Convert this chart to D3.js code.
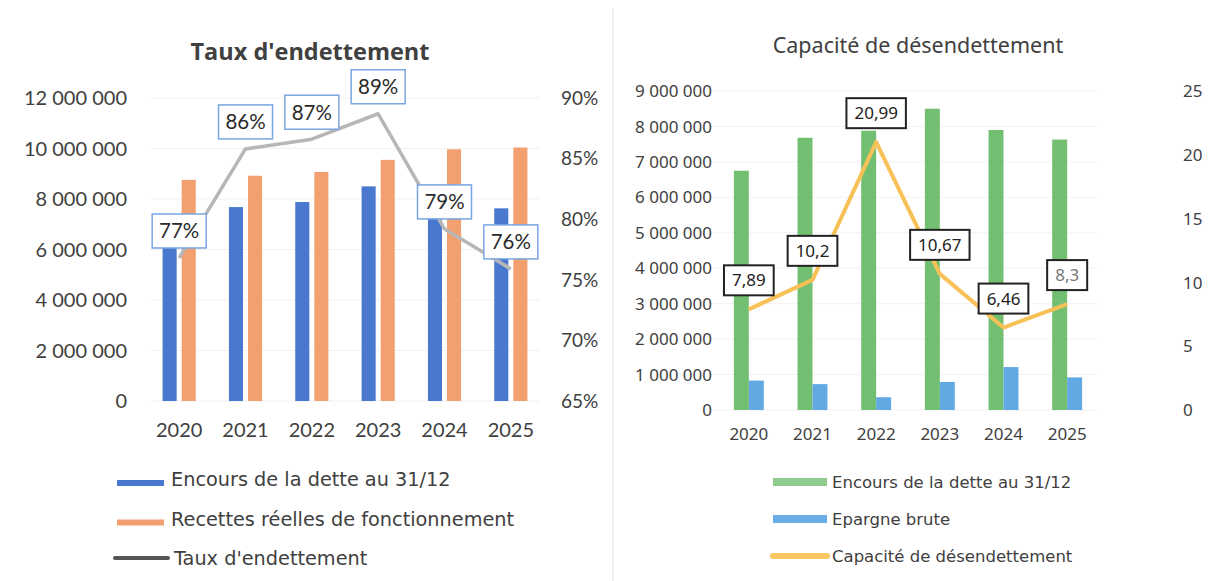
<!DOCTYPE html>
<html>
<head>
<meta charset="utf-8">
<script src="https://cdn.jsdelivr.net/npm/d3@7"></script>
<style>
  body { margin: 0; background: #fff; }
  svg { display: block; }
</style>
</head>
<body>
<svg width="1217" height="581"></svg>
<script>
var years = ["2020", "2021", "2022", "2023", "2024", "2025"];
var encours = [6750000, 7680000, 7880000, 8500000, 7900000, 7630000];
var recettes = [8760000, 8920000, 9070000, 9550000, 9970000, 10040000];
var taux = [0.768, 0.858, 0.866, 0.887, 0.792, 0.759];
var epargne = [830000, 730000, 360000, 790000, 1210000, 920000];
var capacite = [7.89, 10.2, 20.99, 10.67, 6.46, 8.3];

var leftTicks = [0, 2e6, 4e6, 6e6, 8e6, 10e6, 12e6];
var pctTicks = [0.65, 0.70, 0.75, 0.80, 0.85, 0.90];
var rightTicks = [0, 1e6, 2e6, 3e6, 4e6, 5e6, 6e6, 7e6, 8e6, 9e6];
var capTicks = [0, 5, 10, 15, 20, 25];

var svg = d3.select("svg");
var spaced = function (v) { return d3.format(",")(v).replace(/,/g, " "); };

// faint panel separator
svg.append("line").attr("x1", 613).attr("x2", 613).attr("y1", 8).attr("y2", 581)
    .style("stroke", "#f0f0f0").style("stroke-width", 2);

// ---------- left chart : Taux d'endettement ----------
var L = svg.append("g").style("font-family", "Lato, sans-serif");

var x = d3.scaleBand().domain(years).range([146, 544]).paddingInner(0.5).paddingOuter(0.25);
var xIn = d3.scaleBand().domain(["a", "b"]).range([0, x.bandwidth()]).paddingInner(0.263);
var y = d3.scaleLinear().domain([0, 12e6]).range([401, 98]);
var yP = d3.scaleLinear().domain([0.65, 0.90]).range([401, 98]);

L.append("text").attr("x", 310).attr("y", 60).attr("text-anchor", "middle")
    .style("font-family", "'Open Sans', sans-serif")
    .style("font-size", "23.5px").style("font-weight", "bold").style("fill", "#404040")
    .text("Taux d'endettement");

L.selectAll(".grid").data(leftTicks).enter().append("line")
    .attr("x1", 150).attr("x2", 540)
    .attr("y1", function (d) { return y(d); }).attr("y2", function (d) { return y(d); })
    .style("stroke", "#f1f1f1").style("stroke-width", 1);

L.selectAll(".yl").data(leftTicks).enter().append("text")
    .attr("x", 127).attr("y", function (d) { return y(d); }).attr("dy", "0.36em")
    .attr("text-anchor", "end").style("font-size", "20px").style("fill", "#404040")
    .text(spaced);

L.selectAll(".yr").data(pctTicks).enter().append("text")
    .attr("x", 561).attr("y", function (d) { return yP(d); }).attr("dy", "0.36em")
    .style("font-size", "19px").style("fill", "#404040")
    .text(function (d) { return Math.round(d * 100) + "%"; });

L.selectAll(".xl").data(years).enter().append("text")
    .attr("x", function (d) { return x(d) + x.bandwidth() / 2; }).attr("y", 437)
    .attr("text-anchor", "middle").style("font-size", "20px").style("fill", "#404040")
    .text(function (d) { return d; });

L.selectAll(".b1").data(encours).enter().append("rect")
    .attr("x", function (d, i) { return x(years[i]) + xIn("a"); })
    .attr("y", function (d) { return y(d); })
    .attr("width", xIn.bandwidth()).attr("height", function (d) { return y(0) - y(d); })
    .style("fill", "#4a78cf");

L.selectAll(".b2").data(recettes).enter().append("rect")
    .attr("x", function (d, i) { return x(years[i]) + xIn("b"); })
    .attr("y", function (d) { return y(d); })
    .attr("width", xIn.bandwidth()).attr("height", function (d) { return y(0) - y(d); })
    .style("fill", "#f2a070");

var lineL = d3.line()
    .x(function (d, i) { return x(years[i]) + x.bandwidth() / 2; })
    .y(function (d) { return yP(d); });
L.append("path").datum(taux).attr("d", lineL)
    .style("fill", "none").style("stroke", "#b7b7b7").style("stroke-width", 3.5)
    .style("stroke-linejoin", "round");

var labL = L.selectAll(".lab").data(taux).enter().append("g")
    .attr("transform", function (d, i) {
        return "translate(" + (x(years[i]) + x.bandwidth() / 2) + "," + (yP(d) - 27) + ")";
    });
labL.append("rect").attr("x", -27).attr("y", -17).attr("width", 54).attr("height", 34)
    .style("fill", "#fff").style("stroke", "#79a6e3").style("stroke-width", 1.5);
labL.append("text").attr("text-anchor", "middle").attr("dy", "0.36em")
    .style("font-size", "20.5px").style("fill", "#2a2a2a")
    .text(function (d) { return Math.round(d * 100) + "%"; });

var legL = [
    { name: "Encours de la dette au 31/12", color: "#4a78cf", type: "rect" },
    { name: "Recettes réelles de fonctionnement", color: "#f2a070", type: "rect" },
    { name: "Taux d'endettement", color: "#555", type: "line" }
];
var lg = L.selectAll(".leg").data(legL).enter().append("g")
    .attr("transform", function (d, i) { return "translate(0," + (486 + i * 39.5) + ")"; });
lg.filter(function (d) { return d.type == "rect"; }).append("rect")
    .attr("x", 117).attr("y", -6).attr("width", 47).attr("height", 6)
    .style("fill", function (d) { return d.color; });
lg.filter(function (d) { return d.type == "line"; }).append("line")
    .attr("x1", 115).attr("x2", 168).attr("y1", -7).attr("y2", -7)
    .style("stroke", function (d) { return d.color; }).style("stroke-width", 4)
    .style("stroke-linecap", "round");
lg.append("text").attr("x", function (d) { return d.type == "line" ? 174 : 171; })
    .style("font-family", "'DejaVu Sans', sans-serif").style("font-size", "19.3px")
    .style("fill", "#404040").text(function (d) { return d.name; });

// ---------- right chart : Capacité de désendettement ----------
var R = svg.append("g").style("font-family", "'Noto Sans', sans-serif");

var x2 = d3.scaleBand().domain(years).range([717, 1099]).paddingInner(0.53).paddingOuter(0.265);
var x2In = d3.scaleBand().domain(["a", "b"]).range([0, x2.bandwidth()]);
var y2 = d3.scaleLinear().domain([0, 9e6]).range([410, 91]);
var y2C = d3.scaleLinear().domain([0, 25]).range([410, 91]);

R.append("text").attr("x", 918).attr("y", 53).attr("text-anchor", "middle")
    .style("font-size", "21.5px").style("fill", "#404040")
    .text("Capacité de désendettement");

R.selectAll(".grid").data(rightTicks).enter().append("line")
    .attr("x1", 710).attr("x2", 1097)
    .attr("y1", function (d) { return y2(d); }).attr("y2", function (d) { return y2(d); })
    .style("stroke", "#f2f2f2").style("stroke-width", 1);

R.selectAll(".yl").data(rightTicks).enter().append("text")
    .attr("x", 712).attr("y", function (d) { return y2(d); }).attr("dy", "0.36em")
    .attr("text-anchor", "end").style("font-size", "17px").style("fill", "#404040")
    .text(spaced);

R.selectAll(".yr").data(capTicks).enter().append("text")
    .attr("x", 1183).attr("y", function (d) { return y2C(d); }).attr("dy", "0.36em")
    .style("font-size", "17px").style("fill", "#404040")
    .text(function (d) { return d; });

R.selectAll(".xl").data(years).enter().append("text")
    .attr("x", function (d) { return x2(d) + x2.bandwidth() / 2; }).attr("y", 440)
    .attr("text-anchor", "middle").style("font-size", "17px").style("fill", "#404040")
    .text(function (d) { return d; });

R.selectAll(".b1").data(encours).enter().append("rect")
    .attr("x", function (d, i) { return x2(years[i]) + x2In("a"); })
    .attr("y", function (d) { return y2(d); })
    .attr("width", x2In.bandwidth()).attr("height", function (d) { return y2(0) - y2(d); })
    .style("fill", "#72bf72");

R.selectAll(".b2").data(epargne).enter().append("rect")
    .attr("x", function (d, i) { return x2(years[i]) + x2In("b"); })
    .attr("y", function (d) { return y2(d); })
    .attr("width", x2In.bandwidth()).attr("height", function (d) { return y2(0) - y2(d); })
    .style("fill", "#62a8e2");

var lineR = d3.line()
    .x(function (d, i) { return x2(years[i]) + x2.bandwidth() / 2; })
    .y(function (d) { return y2C(d); });
R.append("path").datum(capacite).attr("d", lineR)
    .style("fill", "none").style("stroke", "#f8c157").style("stroke-width", 4)
    .style("stroke-linejoin", "round");

var labR = R.selectAll(".lab").data(capacite).enter().append("g")
    .attr("transform", function (d, i) {
        return "translate(" + (x2(years[i]) + x2.bandwidth() / 2) + "," + (y2C(d) - 29) + ")";
    });
labR.append("text").attr("text-anchor", "middle").attr("dy", "0.36em")
    .style("font-size", "17px")
    .style("fill", function (d, i) { return i == 5 ? "#777" : "#222"; })
    .text(function (d) { return String(d).replace(".", ","); });
labR.insert("rect", "text").each(function () {
    var w = this.parentNode.querySelector("text").getComputedTextLength() + 16;
    d3.select(this).attr("x", -w / 2).attr("width", w);
}).attr("y", -15).attr("height", 30)
    .style("fill", "#fff").style("stroke", "#222").style("stroke-width", 2);

var legR = [
    { name: "Encours de la dette au 31/12", color: "#8fcb8f", type: "rect" },
    { name: "Epargne brute", color: "#6aace6", type: "rect" },
    { name: "Capacité de désendettement", color: "#fac862", type: "line" }
];
var rg = R.selectAll(".leg").data(legR).enter().append("g")
    .attr("transform", function (d, i) { return "translate(0," + (488 + i * 37) + ")"; });
rg.filter(function (d) { return d.type == "rect"; }).append("rect")
    .attr("x", 773).attr("y", -10).attr("width", 54).attr("height", 8)
    .style("fill", function (d) { return d.color; });
rg.filter(function (d) { return d.type == "line"; }).append("line")
    .attr("x1", 773).attr("x2", 827).attr("y1", -6).attr("y2", -6)
    .style("stroke", function (d) { return d.color; }).style("stroke-width", 6)
    .style("stroke-linecap", "round");
rg.append("text").attr("x", 832)
    .style("font-family", "'DejaVu Sans', sans-serif").style("font-size", "16.5px")
    .style("fill", "#404040").text(function (d) { return d.name; });
</script>
</body>
</html>
